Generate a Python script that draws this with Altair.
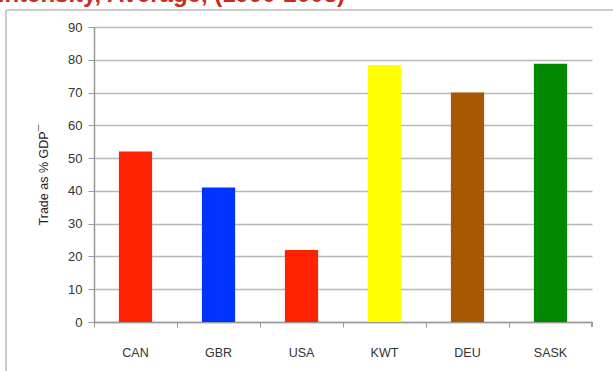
import altair as alt
import pandas as pd

countries = ["CAN", "GBR", "USA", "KWT", "DEU", "SASK"]
trade_pct = [52, 41, 22, 78.4, 70, 78.8]
colors = ["#ff2200", "#0033ff", "#ff2200", "#ffff00", "#a85800", "#008800"]
title_text = "Trade Intensity, Average, (1990-2008)"
y_ticks = [0, 10, 20, 30, 40, 50, 60, 70, 80, 90]

df = pd.DataFrame({"country": countries, "value": trade_pct, "color": colors})

W, H = 498, 295
PL, PT, PR, PB = 94, 27, 21, 49
FONT = "Liberation Sans"

x_enc = alt.X(
    "country:N",
    sort=countries,
    scale=alt.Scale(paddingInner=0, paddingOuter=0),
    axis=alt.Axis(
        title=None, bandPosition=0, labelAngle=0, labelFont=FONT, labelFontSize=12.5,
        labelColor="#333333", labelPadding=19, tickSize=5, tickColor="#999999",
        domainColor="#999999", domainWidth=1.5, grid=False, labelAlign="center",
    ),
)

bars = alt.Chart(df).mark_bar(width=alt.RelativeBandSize(0.4)).encode(
    x=x_enc,
    y=alt.Y(
        "value:Q",
        scale=alt.Scale(domain=[0, 90], nice=False),
        axis=alt.Axis(
            values=y_ticks, title="Trade as % GDP¯", titleFont=FONT, titleFontSize=12.5,
            titleFontWeight="normal", titleColor="#222222", titlePadding=17,
            labelFont=FONT, labelFontSize=13, labelColor="#333333", labelPadding=6,
            tickSize=6, tickColor="#999999", domainColor="#999999", domainWidth=1.5,
            gridColor="#b8b8b8", gridWidth=1.5,
        ),
    ),
    color=alt.Color("color:N", scale=None),
)

frame_left = alt.Chart(df).mark_rule(color="#cccccc", strokeWidth=2).encode(
    x=alt.value(6 - PL), y=alt.value(10 - PT), y2=alt.value(371 - PT)
)
frame_top = alt.Chart(df).mark_rule(color="#cccccc", strokeWidth=2).encode(
    x=alt.value(6 - PL), x2=alt.value(613 - PL), y=alt.value(10 - PT)
)
last_tick = alt.Chart(df).mark_rule(color="#999999", strokeWidth=1).encode(
    x=alt.value(W), y=alt.value(H), y2=alt.value(H + 5)
)
title = alt.Chart(pd.DataFrame({"t": [title_text]})).mark_text(
    color="#cc2a1a", font=FONT, fontSize=24, fontWeight="bold", align="right",
    baseline="alphabetic"
).encode(text="t:N", x=alt.value(345 - PL), y=alt.value(1.5 - PT))

chart = alt.layer(frame_left, frame_top, bars, last_tick, title).properties(
    width=W, height=H,
    autosize=alt.AutoSizeParams(type="none"),
    padding={"left": PL, "top": PT, "right": PR, "bottom": PB},
    background="white",
).configure_view(stroke=None)

chart.save("out.html", embed_options={"renderer": "svg", "actions": False})
